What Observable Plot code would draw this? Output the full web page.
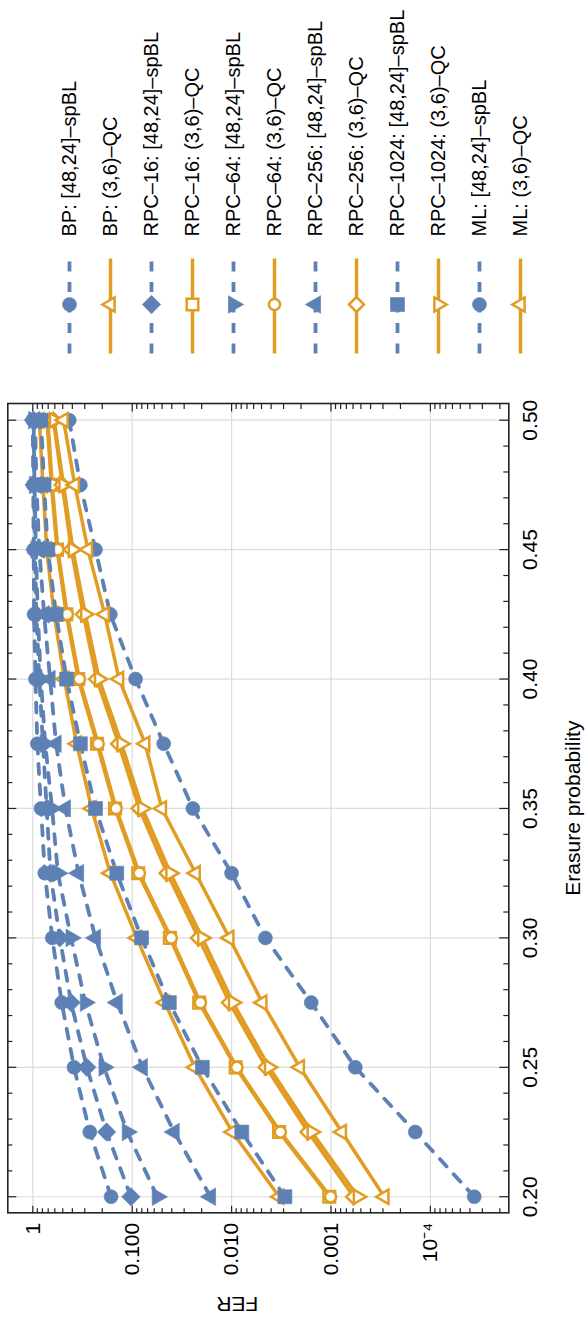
<!DOCTYPE html>
<html><head><meta charset="utf-8">
<script src="https://cdn.jsdelivr.net/npm/d3@7"></script>
<script src="https://cdn.jsdelivr.net/npm/@observablehq/plot@0.6"></script>
<style>
body{margin:0;background:#fff;}
#wrap{position:relative;width:587px;height:1324px;overflow:hidden;background:#fff}
#rot{position:absolute;left:0;top:0;width:1324px;height:587px;display:flex;transform-origin:0 0;transform:translate(0px,1324px) rotate(-90deg);background:#fff}
#rot svg{display:block;flex:none;max-width:none;}
</style></head><body><div id="wrap"><div id="rot"></div></div>
<script>
// ---------------- data ----------------
const erasure = [0.20, 0.225, 0.25, 0.275, 0.30, 0.325, 0.35, 0.375, 0.40, 0.425, 0.45, 0.475, 0.50];

const bpSpBL      = [0.163, 0.267, 0.385, 0.512, 0.637, 0.757, 0.826, 0.90, 0.94, 0.97, 0.98, 0.99, 1.0];
const bpQC        = [0.00332, 0.0098, 0.0234, 0.047, 0.090, 0.166, 0.256, 0.362, 0.482, 0.61, 0.725, 0.79, 0.86];
const rpc16SpBL   = [0.103, 0.181, 0.286, 0.412, 0.535, 0.665, 0.725, 0.79, 0.86, 0.92, 0.95, 0.97, 0.985];
const rpc16QC     = [0.00104, 0.00333, 0.0091, 0.0212, 0.0418, 0.087, 0.149, 0.226, 0.349, 0.46, 0.57, 0.65, 0.72];
const rpc64SpBL   = [0.0559, 0.112, 0.192, 0.296, 0.412, 0.559, 0.64, 0.75, 0.83, 0.89, 0.93, 0.96, 0.98];
const rpc64QC     = [0.00101, 0.00323, 0.00885, 0.0206, 0.0405, 0.0848, 0.145, 0.220, 0.340, 0.45, 0.559, 0.637, 0.706];
const rpc256SpBL  = [0.0163, 0.0378, 0.079, 0.1415, 0.234, 0.346, 0.470, 0.583, 0.67, 0.77, 0.86, 0.92, 0.95];
const rpc256QC    = [0.00059, 0.0017, 0.0045, 0.0105, 0.0215, 0.0445, 0.085, 0.137, 0.228, 0.31, 0.41, 0.505, 0.62];
const rpc1024SpBL = [0.00291, 0.0079, 0.0197, 0.0423, 0.0805, 0.143, 0.234, 0.332, 0.457, 0.583, 0.706, 0.77, 0.826];
const rpc1024QC   = [0.000535, 0.00156, 0.00419, 0.00966, 0.0197, 0.0412, 0.079, 0.128, 0.215, 0.296, 0.395, 0.49, 0.61];
const mlSpBL      = [3.62e-5, 1.42e-4, 5.69e-4, 1.58e-3, 4.57e-3, 0.0100, 0.0245, 0.0482, 0.0925, 0.166, 0.234, 0.332, 0.43];
const mlQC        = [2.91e-4, 7.78e-4, 2.06e-3, 4.91e-3, 0.01054, 0.0230, 0.0503, 0.0740, 0.1355, 0.189, 0.279, 0.378, 0.49];

const seriesNames = [
  "BP: [48,24]–spBL", "BP: (3,6)–QC",
  "RPC–16: [48,24]–spBL", "RPC–16: (3,6)–QC",
  "RPC–64: [48,24]–spBL", "RPC–64: (3,6)–QC",
  "RPC–256: [48,24]–spBL", "RPC–256: (3,6)–QC",
  "RPC–1024: [48,24]–spBL", "RPC–1024: (3,6)–QC",
  "ML: [48,24]–spBL", "ML: (3,6)–QC"
];
const seriesValues = [bpSpBL, bpQC, rpc16SpBL, rpc16QC, rpc64SpBL, rpc64QC,
  rpc256SpBL, rpc256QC, rpc1024SpBL, rpc1024QC, mlSpBL, mlQC];
const seriesShapes = ["circle", "triUp", "diamond", "square", "triDown", "circle",
  "triUp", "diamond", "square", "triDown", "circle", "triUp"];

const xTicks = [0.20, 0.25, 0.30, 0.35, 0.40, 0.45, 0.50];
const yTicks = [1, 0.1, 0.01, 0.001, 1e-4];
const yTickLabels = ["1", "0.100", "0.010", "0.001", "10⁻⁴"];

// ---------------- style ----------------
const BLUE = "#5E81B5", ORANGE = "#E19C24";
const FONT = "'Liberation Sans', Arial, Helvetica, sans-serif";
const FS = 21, LFS = 20;
const W = 1324, H = 587;
const mL = 110.7, mR = 404, mT = 7.3, mB = 78.7;
const innerW = W - mL - mR, innerH = H - mT - mB;
const xDomain = [0.1938, 0.50645];
const yDomain = [1.626e-5, 1.784];

const isBlue = n => n.endsWith("spBL");

function symbolOf(shape, filled) {
  const d = filled ? {circle: 7, square: 7, diamond: 9.2, tri: 10.2}
                   : {circle: 5.6, square: 5.8, diamond: 7.5, tri: 8.2};
  return {draw(ctx) {
    if (shape === "circle") { const r = d.circle; ctx.moveTo(r, 0); ctx.arc(0, 0, r, 0, 2 * Math.PI); ctx.closePath(); }
    else if (shape === "square") { const s = d.square; ctx.moveTo(-s, -s); ctx.lineTo(s, -s); ctx.lineTo(s, s); ctx.lineTo(-s, s); ctx.closePath(); }
    else if (shape === "diamond") { const s = d.diamond; ctx.moveTo(0, -s); ctx.lineTo(s, 0); ctx.lineTo(0, s); ctx.lineTo(-s, 0); ctx.closePath(); }
    else {
      const R = d.tri, g = shape === "triUp" ? 1 : -1, h = R * Math.sin(Math.PI / 3);
      ctx.moveTo(0, -g * R); ctx.lineTo(h, g * R / 2); ctx.lineTo(-h, g * R / 2); ctx.closePath();
    }
  }};
}
function dotStyle(i) {
  const blue = isBlue(seriesNames[i]);
  return blue
    ? {symbol: symbolOf(seriesShapes[i], true), fill: BLUE, stroke: BLUE, strokeWidth: 0.6}
    : {symbol: symbolOf(seriesShapes[i], false), fill: "white", stroke: ORANGE, strokeWidth: 2.5};
}
function lineStyle(i) {
  return isBlue(seriesNames[i])
    ? {stroke: BLUE, strokeWidth: 3.8, strokeDasharray: "10,10.5"}
    : {stroke: ORANGE, strokeWidth: 3.5};
}

const rows = seriesNames.flatMap((name, i) => erasure.map((p, j) => ({name, p, fer: seriesValues[i][j]})));

const xMinor = d3.range(20, 51).map(k => k / 100).filter(v => !xTicks.some(t => Math.abs(t - v) < 1e-9));
const yMinor = [];
for (let e = -5; e <= 0; e++) for (let k = 2; k <= 9; k++) {
  const v = k * Math.pow(10, e);
  if (v > yDomain[0] && v < yDomain[1]) yMinor.push(v);
}
const TK = {stroke: "#222", strokeWidth: 1.2};

const marks = [
  Plot.ruleX(xTicks, {x: d => d, stroke: "#dcdcdc", strokeWidth: 1.2}),
  Plot.ruleY(yTicks, {y: d => d, stroke: "#dcdcdc", strokeWidth: 1.2}),
  Plot.ruleX(xMinor, {x: d => d, insetTop: innerH - 5, ...TK}),
  Plot.ruleX(xTicks, {x: d => d, insetTop: innerH - 9, ...TK}),
  Plot.ruleX(xMinor, {x: d => d, insetBottom: innerH - 5, ...TK}),
  Plot.ruleX(xTicks, {x: d => d, insetBottom: innerH - 9, ...TK}),
  Plot.ruleY(yMinor, {y: d => d, insetRight: innerW - 5, ...TK}),
  Plot.ruleY(yTicks, {y: d => d, insetRight: innerW - 7.5, ...TK}),
  Plot.ruleY(yMinor, {y: d => d, insetLeft: innerW - 5, ...TK}),
  Plot.ruleY(yTicks, {y: d => d, insetLeft: innerW - 7.5, ...TK}),
  ...seriesNames.map((n, i) => Plot.line(rows.filter(r => r.name === n), {x: "p", y: "fer", ...lineStyle(i)})),
  ...seriesNames.map((n, i) => Plot.dot(rows.filter(r => r.name === n), {x: "p", y: "fer", r: 7, ...dotStyle(i)})),
  Plot.frame({stroke: "#222", strokeWidth: 1.6}),
  Plot.axisX({ticks: xTicks, tickSize: 0, tickPadding: 13, tickFormat: d3.format(".2f"), label: null, fontSize: FS}),
  Plot.axisY({ticks: yTicks, tickSize: 0, tickPadding: 10, label: null, fontSize: FS,
    tickFormat: d => yTickLabels[yTicks.findIndex(t => Math.abs(Math.log10(t) - Math.log10(d)) < 1e-6)]}),
  Plot.text(["Erasure probability"], {text: d => d, frameAnchor: "bottom", lineAnchor: "top", dy: 56, fontSize: FS}),
  Plot.text(["FER"], {text: d => d, frameAnchor: "left", rotate: -90, lineAnchor: "top", dx: -99.5, fontSize: FS})
];

const main = Plot.plot({
  width: W - mR, height: H,
  marginLeft: mL, marginRight: 0, marginTop: mT, marginBottom: mB,
  x: {domain: xDomain},
  y: {type: "log", domain: yDomain},
  style: {fontFamily: FONT, fontSize: FS + "px", color: "#000", background: "white", overflow: "visible"},
  marks
});

// ---------------- legend ----------------
const legend = Plot.plot({
  width: mR, height: H, margin: 0,
  x: {domain: [0, mR], range: [0, mR], axis: null},
  y: {type: "point", domain: seriesNames, range: [48, 541], axis: null},
  style: {fontFamily: FONT, fontSize: LFS + "px", color: "#000", background: "transparent"},
  marks: [
    ...seriesNames.map((n, i) => Plot.link([n], {x1: () => 50, x2: () => 145, y1: d => d, y2: d => d, ...lineStyle(i)})),
    ...seriesNames.map((n, i) => Plot.dot([n], {x: () => 99, y: d => d, r: 7, ...dotStyle(i)})),
    Plot.text(seriesNames, {x: () => 167, y: d => d, text: d => d, textAnchor: "start", lineAnchor: "middle", fontSize: LFS})
  ]
});

document.getElementById("rot").append(main, legend);
</script>
</body></html>
